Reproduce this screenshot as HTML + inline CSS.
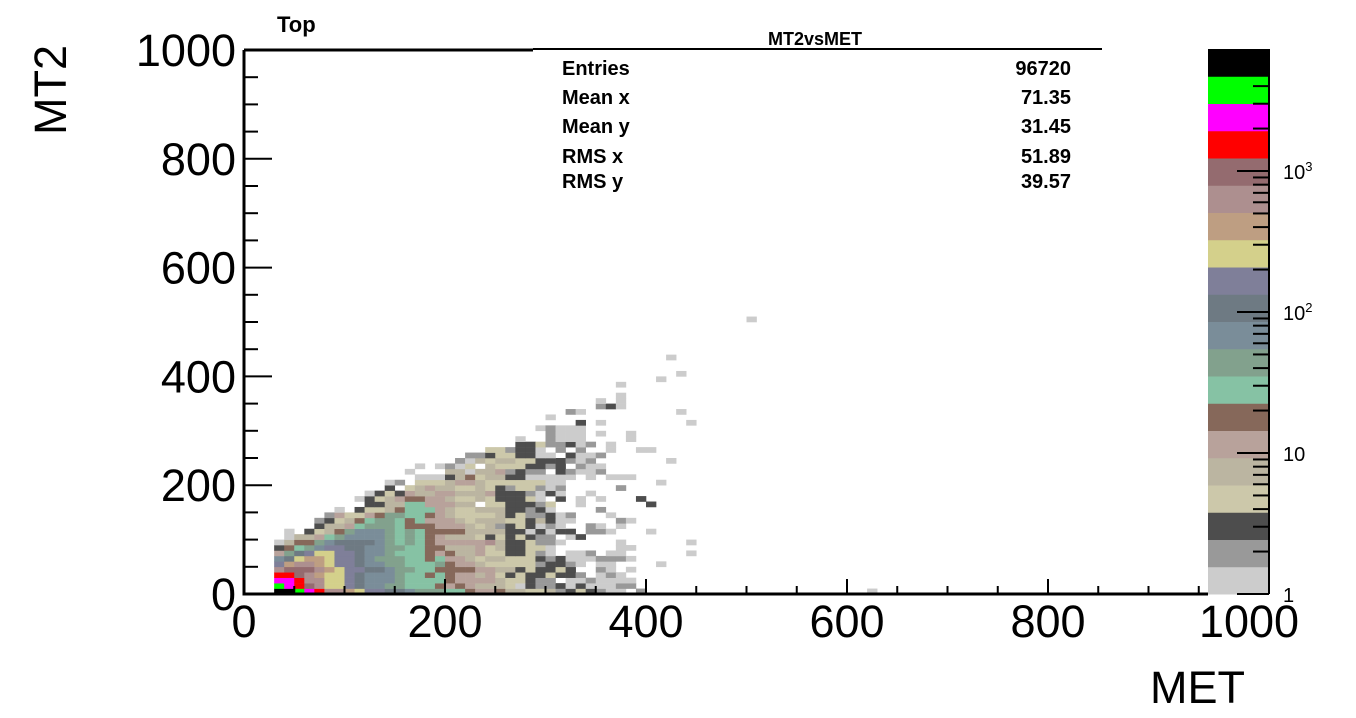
<!DOCTYPE html>
<html><head><meta charset="utf-8"><style>
body{margin:0;background:#fff;}
svg{display:block;font-family:"Liberation Sans",Arial,sans-serif;}
</style></head><body>
<svg id="chart" width="1356" height="718" viewBox="0 0 1356 718" xmlns="http://www.w3.org/2000/svg">
<rect width="1356" height="718" fill="#fff"/>
<g id="cells"></g>
<g id="axes"></g>
<g id="palette"></g>
<text x="277" y="32" font-size="22" font-weight="bold">Top</text>
<line x1="533" y1="49" x2="1102" y2="49" stroke="#000" stroke-width="2"/>
<text x="815" y="45" font-size="18" font-weight="bold" text-anchor="middle">MT2vsMET</text>
<g font-size="20" font-weight="bold">
<text x="562" y="75">Entries</text>
<text x="1071" y="75" text-anchor="end">96720</text>
<text x="562" y="104">Mean x</text>
<text x="1071" y="104" text-anchor="end">71.35</text>
<text x="562" y="133">Mean y</text>
<text x="1071" y="133" text-anchor="end">31.45</text>
<text x="562" y="163">RMS x</text>
<text x="1071" y="163" text-anchor="end">51.89</text>
<text x="562" y="188">RMS y</text>
<text x="1071" y="188" text-anchor="end">39.57</text>
</g>
<text transform="translate(66,45) rotate(-90)" font-size="45" text-anchor="end">MT2</text>
<text x="1245" y="703" font-size="45" text-anchor="end">MET</text>
</svg>
<script>
// level codes a..t = palette levels 0..19; '.' = empty. Row j (MT2 bin of 10), string starts at MET bin 3.
const rowStart = 3;
const binRows = [
"ttsrqoonmllkkjiiihhgffgeeddebcdcbaa.b",
"srqpommlkjjiihhhgfgfeeedacbbcacaaabb",
"rrqoommlkjjjihhhhgffffeddcbb.aabaaaa",
"qqponmmlkjjjihhghgffefdcdccdccb.aba",
"oppponmllkkjiihhggggffeecdccdc..ba.a",
"lnoonmllkjjiihhhigffedddddbccba.aa",
"jkmnnmllkjiiihhghffedeedddcbcaaabbba",
"fiklmmllkjjihhhgfgeefddccdba.aab.aa",
"cghijllkkjjiihhggeeefdeccdda......aa",
"aeggijkkkkjihihgfffffoeccdbba.....a",
".aeefhijjjjihihgfeeedcdcdcbb.ac....",
".a.cdegijjjihihggggeeeeccacacc.bba...a",
"....ceefhiiihgggfffedebcdcaba..ba.a",
"....bcdeghiihghfffedeeeddcecaa....ba",
".....bfddfgiihhgfeddddecdbbcab...a",
"......a.cddeghhhfeddeeeccbca....b",
".........cceehhfffee.ddcccbd..a......c",
"........acdefggffeddedcccda.c.a.a",
".........acdcfeeffeeefcccbaca..a",
"...........c.defeeddedcbddbab.....b",
"...........ab.dddeffeddddddaa",
"..............aaacegdeeccaaaaa.a.aaa",
".............a...eeaeefbcbb.cbaab",
"..............a.abad.edddccbc.baa",
"..................baedeeddcccbab",
"...................bbcddccaa.caab",
".....................ddbcca.b.b..a..a",
"........................ccdbbcab.a",
"........................a..baaa....a",
"...........................baaa.a",
"..........................abaaa",
"..............................c.a",
"...........................a",
".............................ba",
"................................bca",
"................................a.a",
"..................................a",
"",
"..................................a"
];
const sparseMET = [500, 420, 430, 410, 430, 440, 380, 400, 420, 410, 440, 440, 410, 390, 620];
const sparseMT2 = [500, 430, 400, 390, 330, 310, 290, 260, 240, 200, 90, 70, 50, 170, 0];
const sparseLevel = ["a","a","a","a","a","a","a","a","a","a","a","a","a","c","a"];
const paletteColors = ["#cccccc","#999999","#4d4d4d","#ccc8aa","#bbb5a1","#b8a29b","#86685a","#86c2a4","#82a18d","#7a8d99","#6e7a83","#7f7f99","#d4d08b","#be9e82","#ad8f8f","#946b6f","#ff0000","#ff00ff","#00ff00","#000000"];
const xTickLabels = ["0","200","400","600","800","1000"];
const yTickLabels = ["0","200","400","600","800","1000"];
const zTickLabels = ["1","10","10","10"];
const zTickExp = ["","","2","3"];
const zTickValues = [1,10,100,1000];
const binW = 10;

const NS = "http://www.w3.org/2000/svg";
const X = v => 244 + v * 1.005;
const Y = v => 594 - v * 0.544;
const Z = v => 594 - Math.log10(v) * 141;
function mk(tag, attrs, parent){const e=document.createElementNS(NS,tag);for(const k in attrs)e.setAttribute(k,attrs[k]);parent.appendChild(e);return e;}

const cells = document.getElementById("cells");
function cell(met, mt2, code){
  const lvl = code.charCodeAt(0) - 97;
  if (lvl < 0 || lvl > 19) return;
  const r = mk("rect", {x: X(met), y: Y(mt2 + binW), width: X(met + binW) - X(met) + 0.3, height: Y(mt2) - Y(mt2 + binW) + 0.3, fill: paletteColors[lvl]}, cells);
  
  
}
binRows.forEach((row, j) => {
  for (let k = 0; k < row.length; k++) cell((rowStart + k) * binW, j * binW, row[k]);
});
sparseMET.forEach((m, n) => cell(m, sparseMT2[n], sparseLevel[n]));

const ax = document.getElementById("axes");
const fr = mk("path", {d: `M${X(0)},${Y(1000)} L${X(0)},${Y(0)} L1208,${Y(0)} M${X(0)},${Y(1000)} L533,${Y(1000)}`, stroke: "#000", "stroke-width": 3, fill: "none"}, ax);


for (let v = 50; v < 1000; v += 50) {
  const major = v % 200 === 0;
  const t = mk("line", {x1: X(v), x2: X(v), y1: Y(0), y2: Y(0) - (major ? 15 : 8), stroke: "#000", "stroke-width": 2}, ax);
  
  
  const u = mk("line", {x1: X(0), x2: X(0) + (major ? 28 : 14), y1: Y(v), y2: Y(v), stroke: "#000", "stroke-width": 2}, ax);
  
  
}
xTickLabels.forEach((s, n) => {
  const t = mk("text", {x: X(n * 200), y: 637, "font-size": 45, "text-anchor": "middle"}, ax);
  t.textContent = s;
  
  
});
yTickLabels.forEach((s, n) => {
  const t = mk("text", {x: 236, y: Y(n * 200) + 16, "font-size": 45, "text-anchor": "end"}, ax);
  t.textContent = s;
  
  
});

const pal = document.getElementById("palette");
const pTop = 49, pBot = 594, pStep = (pBot - pTop) / paletteColors.length;
paletteColors.forEach((c, n) => {
  const r = mk("rect", {x: 1208, y: pBot - (n + 1) * pStep, width: 61, height: pStep + 0.5, fill: c}, pal);
  
  
});
const pb = mk("line", {x1: 1269, x2: 1269, y1: pTop, y2: pBot, stroke: "#000", "stroke-width": 2}, pal);


for (let d = 0; d < 4; d++) for (let m = 1; m < 10; m++) {
  const v = Math.pow(10, d) * m;
  const yy = Z(v);
  if (yy < pTop) continue;
  const t = mk("line", {x1: 1269, x2: 1269 - (m === 1 ? 32 : 16), y1: yy, y2: yy, stroke: "#000", "stroke-width": 2}, pal);
  
  
}
zTickValues.forEach((v, n) => {
  const t = mk("text", {x: 1283, y: Z(v) + 8, "font-size": 20}, pal);
  t.textContent = zTickLabels[n];
  if (zTickExp[n]) { const s = mk("tspan", {dy: -8, "font-size": 13}, t); s.textContent = zTickExp[n]; }
  
  
});
</script>
</body></html>
